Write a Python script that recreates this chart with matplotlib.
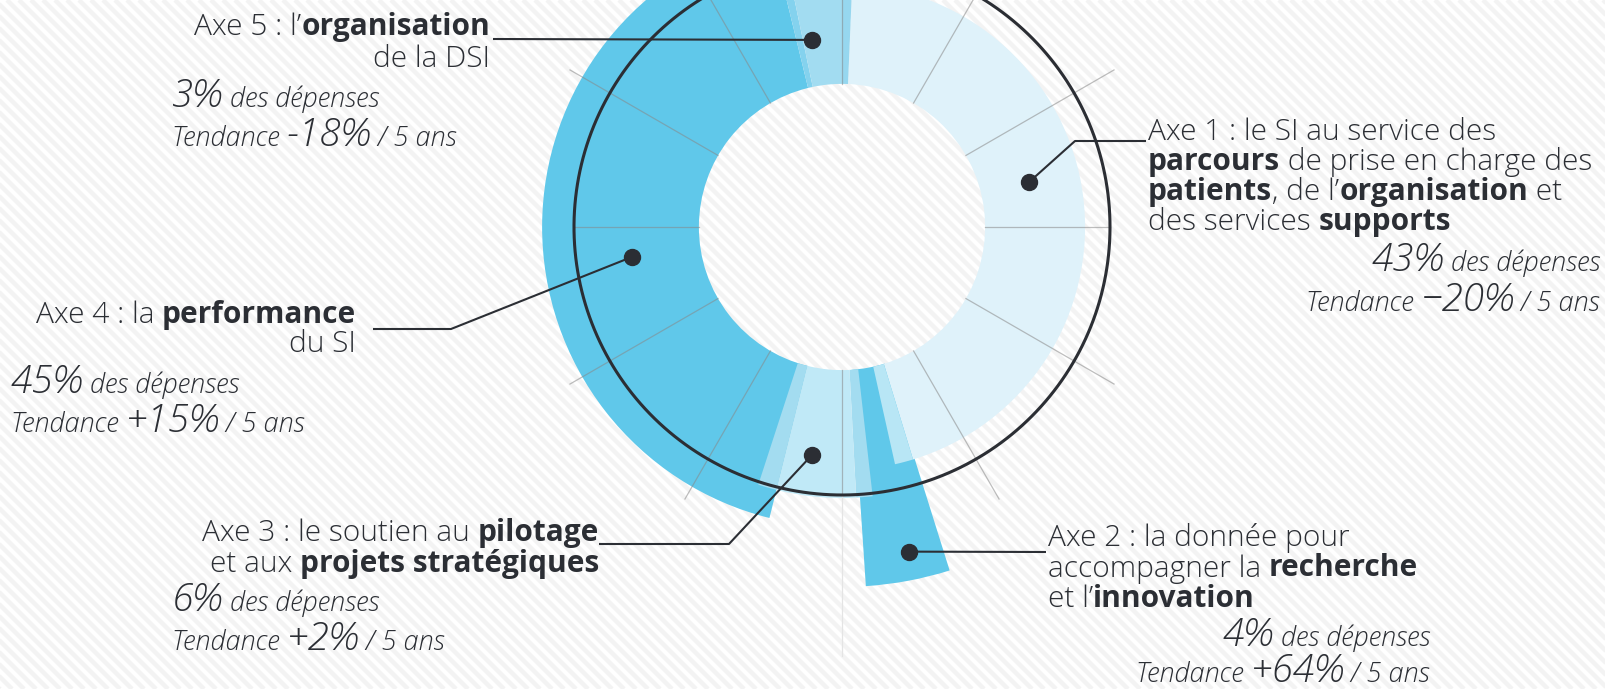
import numpy as np
import matplotlib
matplotlib.use('Agg')
import matplotlib.pyplot as plt

W, H = 1605, 689
plt.rcParams['font.family'] = ['Open Sans', 'DejaVu Sans']

# --- données -------------------------------------------------------------
axes_noms = ['Axe 1', 'Axe 2', 'Axe 3', 'Axe 4', 'Axe 5']
depenses = [43, 4, 6, 45, 3]              # % des dépenses
tendances = ['−20%', '+64%', '+2%', '+15%', '-18%']   # tendance sur 5 ans

# libellés (morceau, gras ?)
titres = [
    [[('Axe 1 : le SI au service des', 0)],
     [('parcours', 1), (' de prise en charge des', 0)],
     [('patients', 1), (', de l’', 0), ('organisation', 1), (' et', 0)],
     [('des services ', 0), ('supports', 1)]],
    [[('Axe 2 : la donnée pour', 0)],
     [('accompagner la ', 0), ('recherche', 1)],
     [('et l’', 0), ('innovation', 1)]],
    [[('Axe 3 : le soutien au ', 0), ('pilotage', 1)],
     [('et aux ', 0), ('projets stratégiques', 1)]],
    [[('Axe 4 : la ', 0), ('performance', 1)],
     [('du SI', 0)]],
    [[('Axe 5 : l’', 0), ('organisation', 1)],
     [('de la DSI', 0)]],
]

# secteurs : début et largeur (degrés, sens horaire depuis le haut),
# rayon extérieur (cercle de référence = 100)
sect_debut = [194.0, 162.6, 2.4, 163.0, 173.5, 177.0, 194.0, 346.3, 348.2, 0.0]
sect_larg = [152.3, 13.6, 160.6, 4.4, 3.5, 17.0, 4.0, 1.9, 11.8, 2.4]
sect_rayon = [111.9, 134.3, 90.7, 90.7, 101.1, 101.1, 101.1, 91.4, 91.4, 91.4]
sect_coul = ['#60c8ea', '#60c8ea', '#dff2fa', '#b8e6f5', '#a3dcf0',
             '#c0e9f7', '#a3dcf0', '#84d2ee', '#a2dcf1', '#96d7ef']

trou = 53.4        # rayon du trou central
reference = 100    # cercle noir

# points des repères (angle, rayon), dans l'ordre des axes
pt_angle = [76.5, 168.3, 187.5, 261.9, 350.9]
pt_rayon = [71.8, 123.7, 85.8, 79.1, 70.7]

# --- mise en page (pixels) -----------------------------------------------
cx, cy = 842, 227
px = 2.68                  # pixels par unité de rayon
rmax = 440 / px

ink = '#2b2e34'
N = dict(fontsize=21.5, fontweight='light')
B = dict(fontsize=21.5, fontweight='bold')
I = dict(fontsize=19.5, fontweight='light', fontstyle='italic')
G = dict(fontsize=28, fontweight='light', fontstyle='italic')

fig = plt.figure(figsize=(W / 100, H / 100), dpi=100)

# fond blanc rayé
bg = fig.add_axes([0, 0, 1, 1], zorder=0)
bg.set_xlim(0, W)
bg.set_ylim(H, 0)
bg.axis('off')
for x0 in range(-H, W + 12, 12):
    bg.plot([x0, x0 + H], [0, H], color='#f3f3f3', lw=3.2, solid_capstyle='butt')

ax = fig.add_axes([(cx - 440) / W, (H - cy - 440) / H, 880 / W, 880 / H],
                  projection='polar', zorder=1)
ax.set_theta_zero_location('N')
ax.set_theta_direction(-1)
ax.set_ylim(0, rmax)
ax.axis('off')

for d, l, r, c in zip(sect_debut, sect_larg, sect_rayon, sect_coul):
    ax.bar(np.deg2rad(d), r - trou, width=np.deg2rad(l), bottom=trou,
           align='edge', color=c, linewidth=0, zorder=2)

# rayons gris
for a in range(0, 360, 30):
    fin = 117.2
    if a in (90, 270, 180):
        fin = reference
    ax.plot([np.deg2rad(a)] * 2, [trou, fin], color='#888888', alpha=0.55,
            lw=0.9, zorder=3)
ax.plot([np.pi] * 2, [reference, 160], color='#e4e4e4', lw=0.9, zorder=3)

th = np.linspace(0, 2 * np.pi, 500)
ax.plot(th, np.full_like(th, reference), color=ink, lw=2.2, zorder=4)

# --- calque texte / repères ----------------------------------------------
ov = fig.add_axes([0, 0, 1, 1], zorder=2)
ov.set_xlim(0, W)
ov.set_ylim(H, 0)
ov.axis('off')

rend = fig.canvas.get_renderer()


def largeur(s, st):
    t = ov.text(0, 0, '|' + s + '|', **st)
    w1 = t.get_window_extent(renderer=rend).width
    t.set_text('||')
    w0 = t.get_window_extent(renderer=rend).width
    t.remove()
    return w1 - w0


def ligne(x, y, morceaux, ha='left'):
    ws = [largeur(s, st) for s, st in morceaux]
    x0 = x if ha == 'left' else x - sum(ws)
    for (s, st), w in zip(morceaux, ws):
        ov.text(x0, y, s, va='baseline', ha='left', color=ink, **st)
        x0 += w


# position du titre : (x, 1re ligne de base, interligne, alignement)
pos_titre = [(1148, 140, 30, 'left'), (1048, 546, 30.5, 'left'),
             (599, 541, 31, 'right'), (356, 323, 29, 'right'),
             (490, 35, 32, 'right')]
# position des chiffres : (x, ligne de base %, ligne de base tendance, alignement)
pos_chif = [(1600, 271, 311, 'right'), (1430, 646, 682, 'right'),
            (172, 611, 650, 'left'), (11, 393, 432, 'left'),
            (172, 107, 146, 'left')]
# coudes des traits de repère
coudes = [[(1075, 141), (1146, 141)], [(1046, 552)],
          [(729, 544), (599, 544)], [(451, 329), (373, 329)], [(493, 39)]]

for i in range(5):
    x, y, dy, ha = pos_titre[i]
    for k, lig in enumerate(titres[i]):
        ligne(x, y + k * dy, [(s, B if b else N) for s, b in lig], ha)
    x, y1, y2, ha = pos_chif[i]
    ligne(x, y1, [(f'{depenses[i]}%', G), (' des dépenses', I)], ha)
    ligne(x, y2, [('Tendance ', I), (tendances[i], G), (' / 5 ans', I)], ha)

    dx, dy_ = ax.transData.transform((np.deg2rad(pt_angle[i]), pt_rayon[i]))
    p = [(dx, H - dy_)] + coudes[i]
    ov.plot([q[0] for q in p], [q[1] for q in p], color=ink, lw=1.5,
            solid_capstyle='butt')
    ov.plot(dx, H - dy_, 'o', ms=11.5, color=ink)

fig.savefig('out.png', dpi=100)
